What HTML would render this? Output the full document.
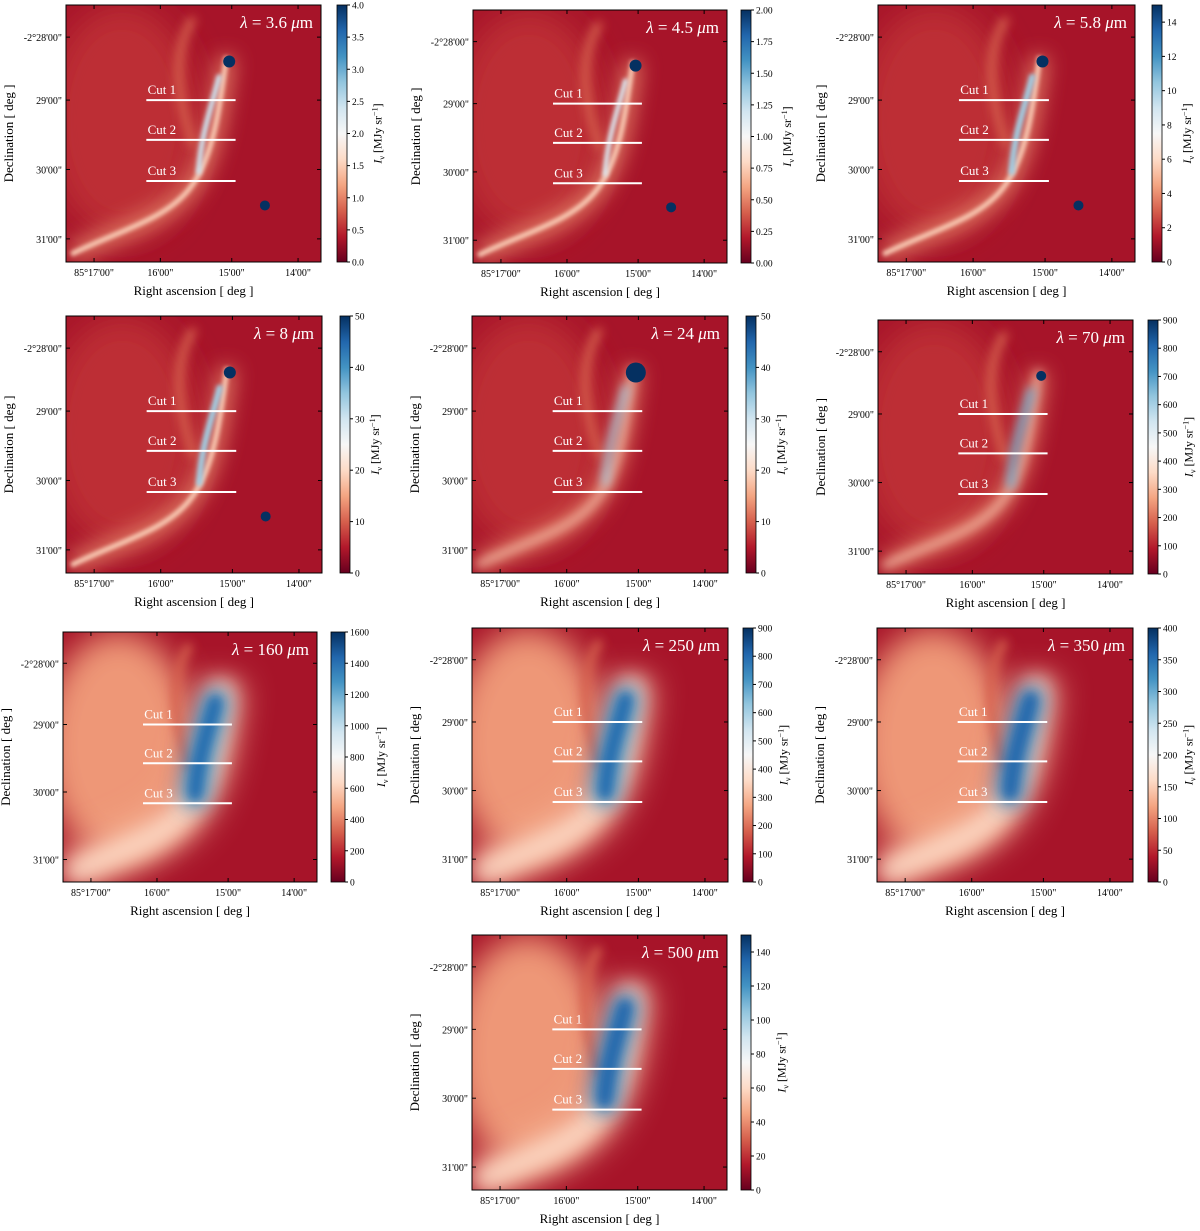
<!DOCTYPE html>
<html><head><meta charset="utf-8"><style>
body{margin:0;background:#fff;}
svg text{font-family:"Liberation Serif",serif;}
</style></head><body>
<svg id="fig" width="1200" height="1226" viewBox="0 0 1200 1226" xmlns="http://www.w3.org/2000/svg">
<defs>
<linearGradient id="rdbu" x1="0" y1="1" x2="0" y2="0">
<stop offset="0" stop-color="#67001f"/><stop offset="0.1" stop-color="#b2182b"/><stop offset="0.2" stop-color="#d6604d"/><stop offset="0.3" stop-color="#f4a582"/><stop offset="0.4" stop-color="#fddbc7"/><stop offset="0.5" stop-color="#f7f7f7"/><stop offset="0.6" stop-color="#d1e5f0"/><stop offset="0.7" stop-color="#92c5de"/><stop offset="0.8" stop-color="#4393c3"/><stop offset="0.9" stop-color="#2166ac"/><stop offset="1" stop-color="#053061"/>
</linearGradient>
<filter id="b1" filterUnits="userSpaceOnUse" x="0" y="0" width="1200" height="1226"><feGaussianBlur stdDeviation="2"/></filter>
<filter id="b2" filterUnits="userSpaceOnUse" x="0" y="0" width="1200" height="1226"><feGaussianBlur stdDeviation="5"/></filter>
<filter id="b3" filterUnits="userSpaceOnUse" x="0" y="0" width="1200" height="1226"><feGaussianBlur stdDeviation="10"/></filter>
<filter id="b4" filterUnits="userSpaceOnUse" x="0" y="0" width="1200" height="1226"><feGaussianBlur stdDeviation="16"/></filter>
</defs>
</svg>
<script>
const titles=["3.6","4.5","5.8","8","24","70","160","250","350","500"];
const cbMax=[4,2,15,50,50,900,1600,900,400,150];
const cbStep=[0.5,0.25,2,10,10,100,200,100,50,20];
const cbDec=[1,2,0,0,0,0,0,0,0,0];
const blurLevel=[1,1,1,1,2,2,3,3,3,3];
const coreStrength=[0.3,0.2,0.5,0.5,0.5,0.7,0.9,0.9,1,1];
const yTicks=["-2°28'00\"","29'00\"","30'00\"","31'00\""];
const yTickPos=[0.125,0.37,0.64,0.91];
const xTicks=["85°17'00\"","16'00\"","15'00\"","14'00\""];
const xTickPos=[0.11,0.37,0.65,0.91];
const cutPos=[0.37,0.525,0.685];
const geo=[[66,5,255,257,337,10],[473,10,254,253,741,10],[878,5,257,257,1152,10],
[66,316,256,257,340,10],[472,316,256,257,746,10],[878,320,255,254,1148,10],
[63,632,254,250,331,14],[472,628,256,254,743,10],[877,628,256,254,1148,10],
[472,935,255,255,741,10]];
const NS="http://www.w3.org/2000/svg";
const fig=document.getElementById('fig');
function mk(tag,attrs,parent){const e=document.createElementNS(NS,tag);for(const k in attrs)e.setAttribute(k,attrs[k]);(parent||fig).appendChild(e);return e;}
function col(t){const s=[[0,[103,0,31]],[.1,[178,24,43]],[.2,[214,96,77]],[.3,[244,165,130]],[.4,[253,219,199]],[.5,[247,247,247]],[.6,[209,229,240]],[.7,[146,197,222]],[.8,[67,147,195]],[.9,[33,102,172]],[1,[5,48,97]]];
t=Math.max(0,Math.min(1,t));for(let i=1;i<s.length;i++){if(t<=s[i][0]){const f=(t-s[i-1][0])/(s[i][0]-s[i-1][0]);const c=s[i-1][1].map((v,j)=>Math.round(v+(s[i][1][j]-v)*f));return `rgb(${c})`;}}return 'rgb(5,48,97)';}
titles.forEach((ti,p)=>{
 const [X,Y,W,H,CX,CW]=geo[p];
 const g=mk('g',{});
 
 
 const fx=f=>X+f*W, fy=f=>Y+f*H;
 const cp=mk('clipPath',{id:'cp'+p},g);
 mk('rect',{x:X,y:Y,width:W,height:H},cp);
 const im=mk('g',{'clip-path':`url(#cp${p})`},g);
 
 
 const bl=blurLevel[p];const cs=coreStrength[p];
 mk('rect',{x:X,y:Y,width:W,height:H,fill:col(0.085)},im);
 mk('ellipse',{cx:fx(0.22),cy:fy(0.45),rx:W*0.3,ry:H*0.45,fill:col(bl>=3?0.28:0.13),filter:'url(#b4)'},im);
 const arc=`M${fx(0.63)},${fy(0.2)} C${fx(0.6)},${fy(0.4)} ${fx(0.58)},${fy(0.6)} ${fx(0.48)},${fy(0.72)} S${fx(0.2)},${fy(0.88)} ${fx(0.02)},${fy(0.97)}`;
 mk('path',{d:arc,fill:'none',stroke:col(bl>=3?0.33:0.25),'stroke-width':bl>=3?40:16,filter:bl>=3?'url(#b4)':'url(#b3)'},im);
 mk('path',{d:arc,fill:'none',stroke:col(bl>=3?0.4:0.38),'stroke-width':bl>=3?20:5,filter:bl>=3?'url(#b3)':`url(#b${bl})`},im);
 mk('path',{d:`M${fx(0.5)},${fy(0.05)} C${fx(0.4)},${fy(0.2)} ${fx(0.45)},${fy(0.4)} ${fx(0.5)},${fy(0.55)}`,fill:'none',stroke:col(0.2),'stroke-width':8,filter:'url(#b2)'},im);
 const core=`M${fx(0.6)},${fy(0.28)} C${fx(0.57)},${fy(0.4)} ${fx(0.53)},${fy(0.5)} ${fx(0.52)},${fy(0.65)}`;
 mk('path',{d:core,fill:'none',stroke:col(0.5+0.35*cs),'stroke-width':bl>=3?28:4+5*cs,'stroke-linecap':'round',filter:bl>=3?'url(#b3)':`url(#b${bl})`},im);
 if(bl>=3) mk('path',{d:core,fill:'none',stroke:col(0.8+0.1*cs),'stroke-width':12,'stroke-linecap':'round',filter:'url(#b2)'},im);
 if(bl<=2){
  mk('circle',{cx:fx(0.64),cy:fy(0.22),r:p==4?10:(p==5?5:6),fill:col(1)},im);
  if(p<4) mk('circle',{cx:fx(0.78),cy:fy(0.78),r:5,fill:col(1)},im);
 }
 cutPos.forEach((c,i)=>{
  const l=mk('line',{x1:fx(0.315),x2:fx(0.665),y1:fy(c),y2:fy(c),stroke:'#fff','stroke-width':2},g);
  
  
  const t=mk('text',{x:fx(0.32),y:fy(c)-6,fill:'#fff','font-size':13},g);t.textContent='Cut '+(i+1);
  
  
 });
 const tt=mk('text',{x:X+W-8,y:Y+23,fill:'#fff','font-size':17,'text-anchor':'end'},g);
 tt.innerHTML='<tspan font-style="italic">λ</tspan> = '+ti+' <tspan font-style="italic">μ</tspan>m';
 
 
 mk('rect',{x:X,y:Y,width:W,height:H,fill:'none',stroke:'#000','stroke-width':1},g);
 yTicks.forEach((s,i)=>{const y=fy(yTickPos[i]);
  mk('line',{x1:X,x2:X+4,y1:y,y2:y,stroke:'#000'},g);mk('line',{x1:X+W,x2:X+W-4,y1:y,y2:y,stroke:'#000'},g);
  const t=mk('text',{x:X-4,y:y+4,'font-size':10,'text-anchor':'end','font-family':'Liberation Sans, sans-serif'},g);t.textContent=s;
  });
 xTicks.forEach((s,i)=>{const x=fx(xTickPos[i]);
  mk('line',{x1:x,x2:x,y1:Y+H,y2:Y+H-4,stroke:'#000'},g);mk('line',{x1:x,x2:x,y1:Y,y2:Y+4,stroke:'#000'},g);
  const t=mk('text',{x:x,y:Y+H+14,'font-size':10,'text-anchor':'middle','font-family':'Liberation Sans, sans-serif'},g);t.textContent=s;
  });
 const xl=mk('text',{x:X+W/2,y:Y+H+33,'font-size':13,'text-anchor':'middle'},g);xl.textContent='Right ascension [ deg ]';
 
 const yl=mk('text',{x:0,y:0,'font-size':13,'text-anchor':'middle',transform:`translate(${X-53},${Y+H/2}) rotate(-90)`},g);yl.textContent='Declination [ deg ]';
 
 const cb=mk('rect',{x:CX,y:Y,width:CW,height:H,fill:'url(#rdbu)',stroke:'#000','stroke-width':0.8},g);
 
 const mx=cbMax[p],st=cbStep[p];let maxT=0;
 for(let v=0;v<=mx+1e-9;v+=st){const y=Y+H-v/mx*H;
  mk('line',{x1:CX+CW,x2:CX+CW+3,y1:y,y2:y,stroke:'#000'},g);
  const t=mk('text',{x:CX+CW+5,y:y+3.5,'font-size':9.5,'font-family':'Liberation Sans, sans-serif'},g);t.textContent=v.toFixed(cbDec[p]);
  
  maxT=Math.max(maxT,t.textContent.length);}
 const cl=mk('text',{x:0,y:0,'font-size':12,'text-anchor':'middle',transform:`translate(${CX+CW+10+maxT*5.5+8},${Y+H/2}) rotate(-90)`},g);
 cl.innerHTML='<tspan font-style="italic">I</tspan><tspan font-size="8" dy="3">ν</tspan><tspan dy="-3"> [MJy sr</tspan><tspan font-size="8" dy="-4">−1</tspan><tspan dy="4">]</tspan>';
 
});
</script>
</body></html>
